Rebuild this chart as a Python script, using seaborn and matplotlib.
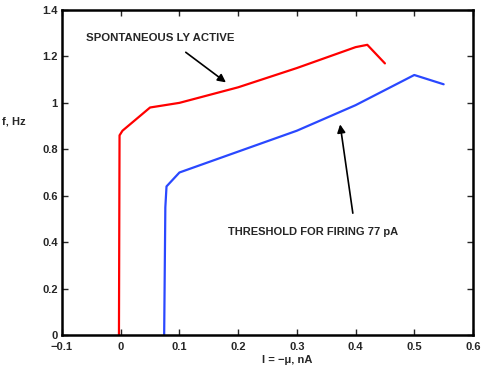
import matplotlib
matplotlib.use("Agg")
import matplotlib.pyplot as plt
import seaborn as sns
import pandas as pd

sns.set_style("white")
plt.rcParams['font.family'] = ['Liberation Sans', 'DejaVu Sans']
plt.rcParams['font.weight'] = 'bold'

red_x = [-0.003, -0.002, 0.003, 0.05, 0.1, 0.2, 0.3, 0.4, 0.42, 0.45]
red_y = [0.0, 0.86, 0.88, 0.98, 1.0, 1.067, 1.15, 1.24, 1.25, 1.17]
blue_x = [0.074, 0.076, 0.078, 0.1, 0.2, 0.3, 0.4, 0.5, 0.55]
blue_y = [0.0, 0.55, 0.64, 0.70, 0.79, 0.88, 0.99, 1.12, 1.08]

x_ticks = [-0.1, 0, 0.1, 0.2, 0.3, 0.4, 0.5, 0.6]
x_tick_labels = ["\u22120.1", "0", "0.1", "0.2", "0.3", "0.4", "0.5", "0.6"]
y_ticks = [0, 0.2, 0.4, 0.6, 0.8, 1, 1.2, 1.4]
y_tick_labels = ["0", "0.2", "0.4", "0.6", "0.8", "1", "1.2", "1.4"]

fig = plt.figure(figsize=(4.85, 3.68), dpi=100)
ax = fig.add_axes([62/485, 33/368, 411/485, 325/368])

df_r = pd.DataFrame({"x": red_x, "y": red_y})
df_b = pd.DataFrame({"x": blue_x, "y": blue_y})
sns.lineplot(data=df_r, x="x", y="y", sort=False, color="#ff0000", lw=1.6, ax=ax, estimator=None)
sns.lineplot(data=df_b, x="x", y="y", sort=False, color="#2a48ff", lw=1.6, ax=ax, estimator=None)

ax.set_xlim(-0.1, 0.6)
ax.set_ylim(0, 1.4)
ax.set_xticks(x_ticks)
ax.set_xticklabels(x_tick_labels)
ax.set_yticks(y_ticks)
ax.set_yticklabels(y_tick_labels)
ax.tick_params(direction="in", length=4, width=1, labelsize=8, top=True, right=True,
               bottom=True, left=True, pad=3)
ax.tick_params(axis="x", pad=5)
for lab in ax.get_xticklabels() + ax.get_yticklabels():
    lab.set_fontweight("bold")
for s in ax.spines.values():
    s.set_linewidth(1.8)
    s.set_color("black")
ax.set_xlabel("")
ax.set_ylabel("")

fig.text(287/485, 1 - 360/368, "I = \u2212\u03bc, nA", ha="center", va="center",
         fontsize=8, fontweight="bold")
fig.text(2/485, 1 - 121/368, "f, Hz", ha="left", va="center", fontsize=8, fontweight="bold")

ax.text(0.068, 1.28, "SPONTANEOUS LY ACTIVE", fontsize=8.2, fontweight="bold", ha="center", va="center")
ax.annotate("", xy=(0.183, 1.081), xytext=(0.107, 1.225),
            arrowprops=dict(arrowstyle="-|>", color="black", lw=1.2, mutation_scale=12))
ax.text(0.327, 0.445, "THRESHOLD FOR FIRING 77 pA", fontsize=8, fontweight="bold", ha="center", va="center")
ax.annotate("", xy=(0.373, 0.919), xytext=(0.396, 0.513),
            arrowprops=dict(arrowstyle="-|>", color="black", lw=1.2, mutation_scale=12))

fig.savefig("out.png", dpi=100, facecolor="white")
